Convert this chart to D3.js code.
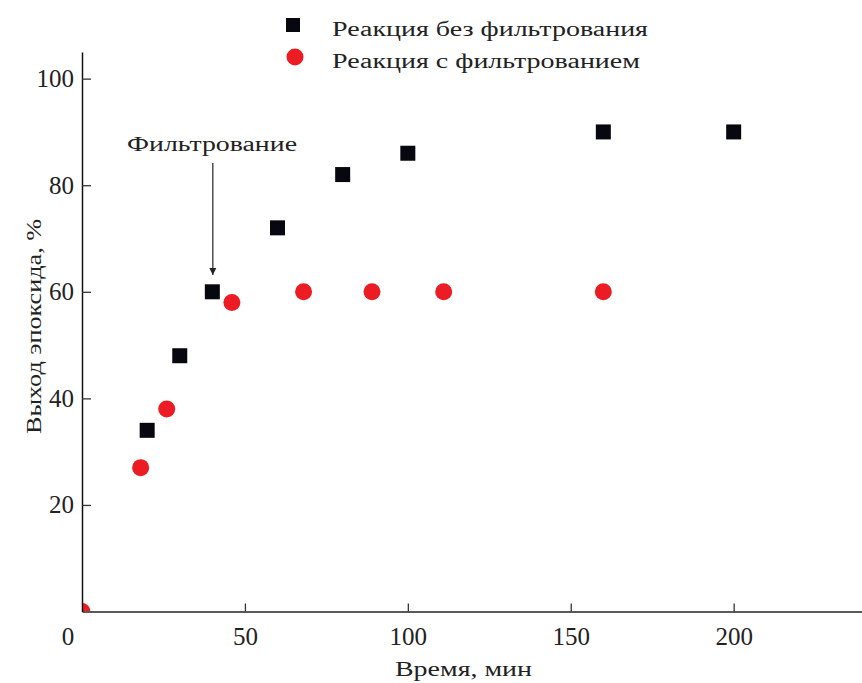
<!DOCTYPE html>
<html>
<head>
<meta charset="utf-8">
<script src="https://cdn.jsdelivr.net/npm/d3@7"></script>
<style>
  html, body { margin: 0; padding: 0; background: #fff; }
  svg { display: block; font-family: "Liberation Serif", "Times New Roman", serif; }
  svg text { font-family: "Liberation Serif", "Times New Roman", serif; }
</style>
</head>
<body>
<svg id="chart" width="862" height="683"></svg>
<script>
// Reaction without filtration (black squares)
const timeNoFilter = [20, 30, 40, 60, 80, 100, 160, 200];
const yieldNoFilter = [34, 48, 60, 72, 82, 86, 90, 90];

// Reaction with filtration (red circles)
const timeFilter = [0, 18, 26, 46, 68, 89, 111, 160];
const yieldFilter = [0, 27, 38, 58, 60, 60, 60, 60];

const xTicks = [50, 100, 150, 200];
const yTicks = [20, 40, 60, 80, 100];
const filtrationTime = 40;

const seriesLabels = ["Реакция без фильтрования", "Реакция с фильтрованием"];
const xTitle = "Время, мин";
const yTitle = "Выход эпоксида, %";
const noteLabel = "Фильтрование";

const svg = d3.select("#chart");
const x = d3.scaleLinear().domain([0, 240]).range([82, 864]);
const y = d3.scaleLinear().domain([0, 105]).range([611.5, 52]);

const RED = "#ec1c24";
const BLACK = "#07070f";
const INK = "#222";

// plot clip so the marker at the origin is cut by the axes
svg.append("defs").append("clipPath").attr("id", "plotClip")
  .append("rect")
  .attr("x", x(0)).attr("y", y(105))
  .attr("width", x(240) - x(0)).attr("height", y(0) - y(105));

const marks = svg.append("g").attr("clip-path", "url(#plotClip)");

const sq = 15;
marks.selectAll("rect.sq")
  .data(timeNoFilter.map((t, i) => [t, yieldNoFilter[i]]))
  .join("rect")
  .attr("class", "sq")
  .attr("x", d => x(d[0]) - sq / 2)
  .attr("y", d => y(d[1]) - sq / 2)
  .attr("width", sq).attr("height", sq)
  .attr("fill", BLACK);

marks.selectAll("circle.pt")
  .data(timeFilter.map((t, i) => [t, yieldFilter[i]]))
  .join("circle")
  .attr("class", "pt")
  .attr("cx", d => x(d[0]))
  .attr("cy", d => y(d[1]))
  .attr("r", 8.5)
  .attr("fill", RED);

// x axis
const xAxis = svg.append("g")
  .attr("transform", `translate(0,${y(0)})`)
  .call(d3.axisBottom(x).tickValues(xTicks).tickSizeInner(-8).tickSizeOuter(0).tickPadding(16))
  .attr("font-family", null).attr("font-size", null);
xAxis.select(".domain").attr("stroke", "#5a5a5a").attr("stroke-width", 2.2);
xAxis.selectAll(".tick line").attr("stroke", "#333").attr("stroke-width", 1.3);
xAxis.selectAll(".tick text").attr("font-size", 25).attr("fill", INK);
xAxis.append("text")
  .attr("x", x(0) - 14).attr("y", 16).attr("dy", "0.71em")
  .attr("text-anchor", "middle").attr("font-size", 25).attr("fill", INK)
  .text("0");

// y axis
const yAxis = svg.append("g")
  .attr("transform", `translate(${x(0)},0)`)
  .call(d3.axisLeft(y).tickValues(yTicks).tickSizeInner(-9).tickSizeOuter(0).tickPadding(17))
  .attr("font-family", null).attr("font-size", null);
yAxis.select(".domain").attr("stroke", "#111").attr("stroke-width", 1.5);
yAxis.selectAll(".tick text").attr("font-size", 25).attr("fill", INK).attr("x", -8);
yAxis.selectAll(".tick line").attr("stroke", "#333").attr("stroke-width", 1.3);

// axis titles
svg.append("text")
  .attr("x", 395).attr("y", 676)
  .attr("font-size", 20.5).attr("fill", INK)
  .attr("textLength", 137).attr("lengthAdjust", "spacingAndGlyphs")
  .text(xTitle);

svg.append("text")
  .attr("transform", `translate(41,434) rotate(-90)`)
  .attr("font-size", 22).attr("fill", INK)
  .attr("textLength", 215).attr("lengthAdjust", "spacingAndGlyphs")
  .text(yTitle);

// filtration annotation with arrow
svg.append("defs").append("marker")
  .attr("id", "arrowHead")
  .attr("viewBox", "0 0 10 10").attr("refX", 10).attr("refY", 5)
  .attr("markerWidth", 7).attr("markerHeight", 10)
  .attr("markerUnits", "userSpaceOnUse")
  .attr("orient", "auto")
  .append("path").attr("d", "M0,0 L10,5 L0,10 Z").attr("fill", INK);

svg.append("line")
  .attr("x1", x(filtrationTime) + 0.5).attr("x2", x(filtrationTime) + 0.5)
  .attr("y1", 163).attr("y2", 275)
  .attr("stroke", INK).attr("stroke-width", 1.2)
  .attr("marker-end", "url(#arrowHead)");

svg.append("text")
  .attr("x", 127).attr("y", 151)
  .attr("font-size", 20.5).attr("fill", INK)
  .attr("textLength", 170).attr("lengthAdjust", "spacingAndGlyphs")
  .text(noteLabel);

// legend
const legend = svg.append("g");
legend.append("rect")
  .attr("x", 293 - 7).attr("y", 25 - 7).attr("width", 14).attr("height", 14)
  .attr("fill", BLACK);
legend.append("circle")
  .attr("cx", 295).attr("cy", 57).attr("r", 8.5).attr("fill", RED);
legend.append("text")
  .attr("x", 332).attr("y", 36)
  .attr("font-size", 20.5).attr("fill", INK)
  .attr("textLength", 316).attr("lengthAdjust", "spacingAndGlyphs")
  .text(seriesLabels[0]);
legend.append("text")
  .attr("x", 332).attr("y", 68)
  .attr("font-size", 20.5).attr("fill", INK)
  .attr("textLength", 308).attr("lengthAdjust", "spacingAndGlyphs")
  .text(seriesLabels[1]);
</script>
</body>
</html>
